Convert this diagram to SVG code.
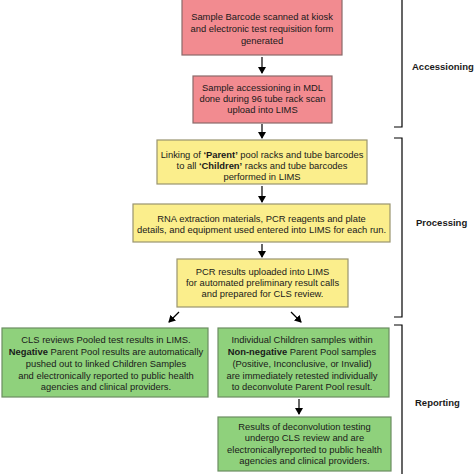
<svg xmlns="http://www.w3.org/2000/svg" width="474" height="474" viewBox="0 0 474 474">
<style>
text{font-family:"Liberation Sans",Arial,sans-serif;font-size:9.4px;fill:#1a1a1a;text-anchor:middle}
.b{font-weight:bold}
.pink{fill:#f28b90;stroke:#8a6a6a;stroke-width:1.2}
.yel{fill:#fbee8c;stroke:#99946f;stroke-width:1.2}
.grn{fill:#8fd17c;stroke:#6c8d62;stroke-width:1.2}
.ar{stroke:#000;stroke-width:1.2;fill:none;marker-end:url(#ah)}
.br{stroke:#000;stroke-width:1.2;fill:none}
.lab{font-weight:bold;font-size:9.5px;text-anchor:start}
</style>
<defs>
<marker id="ah" markerWidth="8" markerHeight="8" refX="6" refY="4" orient="auto" markerUnits="userSpaceOnUse">
<path d="M0,0 L7,4 L0,8 Z" fill="#000"/>
</marker>
</defs>
<rect width="474" height="474" fill="#fff"/>
<g id="n1"><rect class="pink" x="182" y="-2" width="160" height="57"/>
<text x="262" y="20">Sample Barcode scanned at kiosk</text>
<text x="262" y="32">and electronic test requisition form</text>
<text x="262" y="44">generated</text></g>
<g id="n2"><rect class="pink" x="193" y="76" width="139" height="47"/>
<text x="262.5" y="91">Sample accessioning in MDL</text>
<text x="262.5" y="102">done during 96 tube rack scan</text>
<text x="262.5" y="113">upload into LIMS</text></g>
<g id="n3"><rect class="yel" x="157" y="140" width="210" height="44"/>
<text x="262" y="158">Linking of <tspan class="b">‘Parent’</tspan> pool racks and tube barcodes</text>
<text x="262" y="169">to all <tspan class="b">‘Children’</tspan> racks and tube barcodes</text>
<text x="262" y="180">performed in LIMS</text></g>
<g id="n4"><rect class="yel" x="133" y="204" width="257" height="38"/>
<text x="261.5" y="222">RNA extraction materials, PCR reagents and plate</text>
<text x="261.5" y="233">details, and equipment used entered into LIMS for each run.</text></g>
<g id="n5"><rect class="yel" x="177" y="259" width="171" height="48"/>
<text x="262.5" y="275">PCR results uploaded into LIMS</text>
<text x="262.5" y="286">for automated preliminary result calls</text>
<text x="262.5" y="297">and prepared for CLS review.</text></g>
<g id="n6"><rect class="grn" x="2" y="328" width="206" height="69"/>
<text x="106" y="343">CLS reviews Pooled test results in LIMS.</text>
<text x="106" y="355"><tspan class="b">Negative</tspan> Parent Pool results are automatically</text>
<text x="106" y="367">pushed out to linked Children Samples</text>
<text x="106" y="379">and electronically reported to public health</text>
<text x="106" y="390">agencies and clinical providers.</text></g>
<g id="n7"><rect class="grn" x="218" y="328" width="171" height="69"/>
<text x="302" y="343">Individual Children samples within</text>
<text x="302" y="355"><tspan class="b">Non-negative</tspan> Parent Pool samples</text>
<text x="302" y="367">(Positive, Inconclusive, or Invalid)</text>
<text x="302" y="379">are immediately retested individually</text>
<text x="302" y="390">to deconvolute Parent Pool result.</text></g>
<g id="n8"><rect class="grn" x="218" y="417" width="173" height="54"/>
<text x="304.5" y="430">Results of deconvolution testing</text>
<text x="304.5" y="441">undergo CLS review and are</text>
<text x="304.5" y="453">electronicallyreported to public health</text>
<text x="304.5" y="464">agencies and clinical providers.</text></g>
<g id="connectors">
<line class="ar" x1="262" y1="57" x2="262" y2="73"/>
<line class="ar" x1="262" y1="124" x2="262" y2="138"/>
<line class="ar" x1="262" y1="186" x2="262" y2="202"/>
<line class="ar" x1="262" y1="244" x2="262" y2="257"/>
<line class="ar" x1="179" y1="312" x2="169" y2="322"/>
<line class="ar" x1="291" y1="312" x2="301" y2="322"/>
<line class="ar" x1="299" y1="399" x2="299" y2="414"/>
</g>
<g id="brackets">
<path class="br" d="M402,-1 L402,127 L394,127"/>
<path class="br" d="M394,138 L402,138 L402,317 L394,317"/>
<path class="br" d="M394,325 L402,325 L402,475"/>
<text class="lab" x="412" y="70">Accessioning</text>
<text class="lab" x="416" y="226">Processing</text>
<text class="lab" x="415" y="406">Reporting</text>
</g>
</svg>
